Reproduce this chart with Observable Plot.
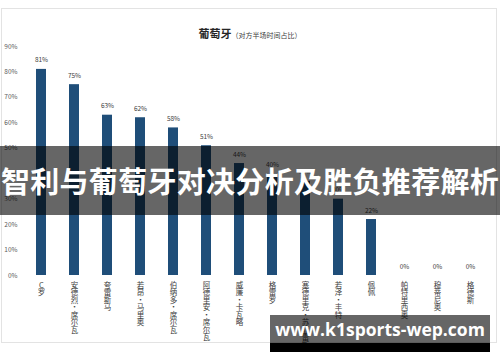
<!DOCTYPE html>
<html>
<head>
<meta charset="utf-8">
<script src="https://cdn.jsdelivr.net/npm/d3@7"></script>
<script src="https://cdn.jsdelivr.net/npm/@observablehq/plot@0.6"></script>
<style>
  html, body { margin: 0; padding: 0; background: #fff; }
  #wrap { position: relative; width: 500px; height: 362px; overflow: hidden; font-family: "Noto Sans CJK SC", "Noto Sans", sans-serif; }
  #frame { position: absolute; left: 1px; top: 8px; width: 496px; height: 335px; border: 1px solid #e3e3e3; box-sizing: border-box; }
  #ctitle { position: absolute; left: 0; top: 19px; width: 500px; text-align: center; color: #262626; white-space: nowrap; }
  #ctitle b { font-size: 11px; font-weight: 700; }
  #ctitle span { font-size: 7px; color: #404040; }
  #banner { position: absolute; left: 0; top: 146px; width: 500px; height: 69px; background: rgba(0,0,0,0.6); color: #fff; font-family: "Noto Sans CJK SC", sans-serif; font-weight: 700; font-size: 29px; line-height: 69px; text-align: center; white-space: nowrap; letter-spacing: 0.3px; }
  #wm { position: absolute; left: 270px; top: 315px; width: 220px; height: 28px; background: rgba(0,0,0,0.6); color: #fff; font-family: "Open Sans", sans-serif; font-weight: 700; font-size: 17.5px; line-height: 28px; text-align: center; white-space: nowrap; }
  #wm2 { position: absolute; left: 270px; top: 343px; width: 220px; height: 9px; background: #000; }
  svg { position: absolute; left: 0; top: 0; }
</style>
</head>
<body>
<div id="wrap">
  <div id="frame"></div>
  <div id="chart"></div>
  <div id="ctitle"><b>葡萄牙</b><span>（对方半场时间占比）</span></div>
  <div id="banner">智利与葡萄牙对决分析及胜负推荐解析</div>
  <div id="wm">www.k1sports-wep.com</div>
  <div id="wm2"></div>
</div>
<script>
const players = ["C罗", "安德烈·席尔瓦", "夸雷斯马", "若昂·马里奥", "伯纳多·席尔瓦", "阿德里安·席尔瓦", "威廉·卡瓦略", "格雷罗", "塞德里克·苏亚雷斯", "若泽·丰特", "佩佩", "帕特里西奥", "穆蒂尼奥", "格德斯"];
const shares = [81, 75, 63, 62, 58, 51, 44, 40, 37, 30, 22, 0, 0, 0];
const yTicks = [0, 10, 20, 30, 40, 50, 60, 70, 80, 90];

const data = players.map((p, i) => ({player: p, share: shares[i]}));

const chart = Plot.plot({
  width: 500,
  height: 362,
  marginTop: 46,
  marginBottom: 87,
  marginLeft: 22,
  marginRight: 11,
  style: {fontFamily: "'Noto Sans CJK SC', sans-serif", background: "transparent", color: "#595959"},
  x: {domain: players, paddingInner: 0.7, paddingOuter: 0.35},
  y: {domain: [0, 90]},
  marks: [
    Plot.gridY(yTicks, {stroke: "#d9d9d9", strokeOpacity: 1, x1: 22, x2: 490}),
    Plot.axisY(yTicks, {tickSize: 0, tickPadding: 5, fontSize: 6.5, fill: "#595959", tickFormat: d => d + "%", label: null}),
    Plot.axisX({tickSize: 0, tickPadding: 7, fontSize: 7.5, fill: "#404040", lineHeight: 1, tickFormat: d => [...d].join("\n"), label: null}),
    Plot.barY(data, {x: "player", y: "share", fill: "#1f4e79"}),
    Plot.text(data, {x: "player", y: "share", text: d => d.share + "%", dy: -9, fontSize: 6.5, fill: "#404040"})
  ]
});
document.getElementById("chart").appendChild(chart);
</script>
</body>
</html>
